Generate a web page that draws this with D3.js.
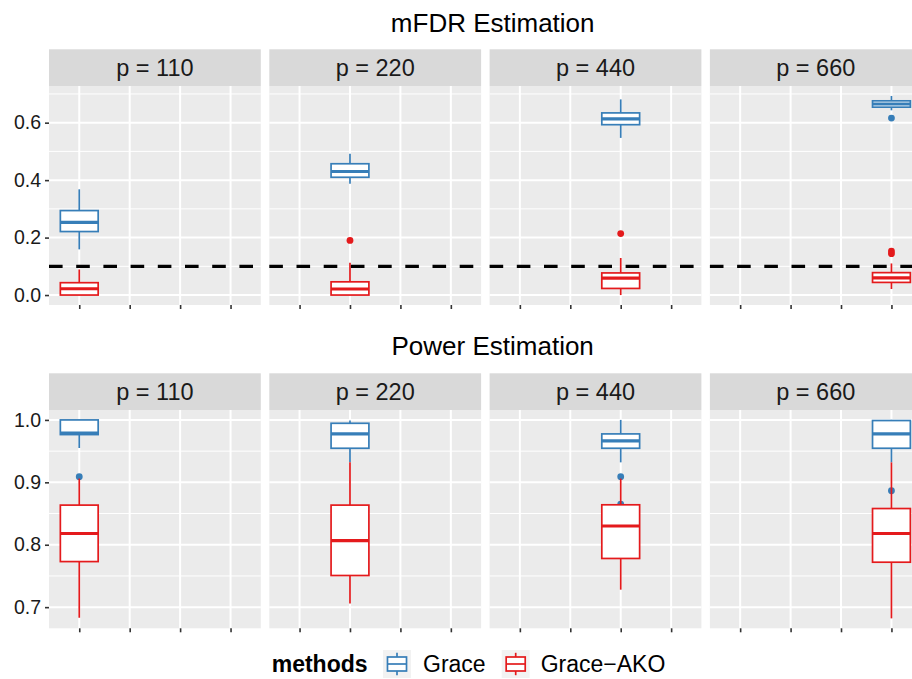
<!DOCTYPE html>
<meta charset="utf-8">
<style>
    body { margin: 0; background: #fff; }
    text { font-family: "Liberation Sans", Arial, Helvetica, sans-serif; }
</style>
<body>
<script src="https://cdn.jsdelivr.net/npm/d3@7"></script>
<script>
    // facets, groups
    var pLevels = ["110", "220", "440", "660"];
    var methods = ["Grace", "Grace\u2212AKO"];
    var colors = ["#377EB8", "#E41A1C"];

    // box stats for each p: [lower whisker, Q1, median, Q3, upper whisker]
    var fdrGrace = [[0.159, 0.221, 0.253, 0.294, 0.368],
                    [0.387, 0.410, 0.430, 0.457, 0.492],
                    [0.547, 0.593, 0.613, 0.634, 0.681],
                    [0.643, 0.654, 0.665, 0.676, 0.693]];
    var fdrAko = [[0.000, 0.000, 0.022, 0.043, 0.089],
                  [0.000, 0.000, 0.021, 0.046, 0.112],
                  [0.000, 0.023, 0.059, 0.077, 0.129],
                  [0.021, 0.044, 0.060, 0.078, 0.110]];
    var fdrGraceOut = [[], [], [], [0.616]];
    var fdrAkoOut = [[], [0.190], [0.214], [0.153, 0.144]];
    var fdrTarget = 0.1;
    var fdrTicks = [0, 0.2, 0.4, 0.6];

    var powGrace = [[0.955, 0.9765, 0.979, 1.000, 1.000],
                    [0.932, 0.9546, 0.9776, 0.9946, 0.999],
                    [0.932, 0.9546, 0.9664, 0.9776, 1.000],
                    [0.932, 0.9546, 0.9776, 0.999, 1.000]];
    var powAko = [[0.683, 0.773, 0.818, 0.8635, 0.906],
                  [0.706, 0.7507, 0.8066, 0.8635, 0.932],
                  [0.728, 0.778, 0.830, 0.864, 0.906],
                  [0.682, 0.772, 0.818, 0.858, 0.932]];
    var powGraceOut = [[0.909], [], [0.909, 0.865], [0.8865]];
    var powAkoOut = [[], [], [], []];
    var powTicks = [0.7, 0.8, 0.9, 1.0];

    var W = 912, H = 679;
    var panelW = 211.8, gap = 8.5, left = 49;
    var stripH = 36.7;

    var rows = [
        { title: "mFDR Estimation", stats: [fdrGrace, fdrAko], out: [fdrGraceOut, fdrAkoOut],
          ticks: fdrTicks, hline: fdrTarget, top: 86, bottom: 305, titleY: 31.7 },
        { title: "Power Estimation", stats: [powGrace, powAko], out: [powGraceOut, powAkoOut],
          ticks: powTicks, hline: null, top: 410, bottom: 628.3, titleY: 355 }
    ];

    var svg = d3.select("body").append("svg")
        .attr("width", W)
        .attr("height", H);

    var x = d3.scalePoint().domain(pLevels).range([0, panelW]).padding(0.6);
    var boxW = x.step() * 0.75;

    rows.forEach(function (row) {
        var vals = [];
        row.stats.forEach(function (s) { s.forEach(function (b) { vals = vals.concat(b); }); });
        row.out.forEach(function (o) { o.forEach(function (b) { vals = vals.concat(b); }); });
        var ext = d3.extent(vals), pad = (ext[1] - ext[0]) * 0.05;
        var y = d3.scaleLinear().domain([ext[0] - pad, ext[1] + pad]).range([row.bottom - row.top, 0]);

        // minor breaks half way between majors
        var step = row.ticks[1] - row.ticks[0];
        var minor = d3.range(-1, row.ticks.length).map(function (i) { return row.ticks[0] + step * (i + 0.5); })
            .filter(function (v) { return v >= y.domain()[0] && v <= y.domain()[1]; });

        // row title
        svg.append("text")
            .attr("x", 492.7)
            .attr("y", row.titleY)
            .attr("text-anchor", "middle")
            .style("font-size", "26px")
            .style("fill", "#000")
            .text(row.title);

        pLevels.forEach(function (p, j) {
            var px = left + j * (panelW + gap);
            var g = svg.append("g").attr("transform", "translate(" + px + "," + row.top + ")");
            var ph = row.bottom - row.top;

            g.append("rect").attr("width", panelW).attr("height", ph).attr("fill", "#EBEBEB");

            g.selectAll(".minor").data(minor).enter().append("line")
                .attr("x1", 0).attr("x2", panelW)
                .attr("y1", y).attr("y2", y)
                .attr("stroke", "#fff").attr("stroke-width", 1);
            g.selectAll(".majory").data(row.ticks).enter().append("line")
                .attr("x1", 0).attr("x2", panelW)
                .attr("y1", y).attr("y2", y)
                .attr("stroke", "#fff").attr("stroke-width", 2);
            g.selectAll(".majorx").data(pLevels).enter().append("line")
                .attr("x1", x).attr("x2", x)
                .attr("y1", 0).attr("y2", ph)
                .attr("stroke", "#fff").attr("stroke-width", 2);

            // boxes, Grace first then Grace-AKO
            row.stats.forEach(function (s, m) {
                var b = s[j], cx = x(p), col = colors[m];
                var bg = g.append("g");
                bg.append("line").attr("x1", cx).attr("x2", cx)
                    .attr("y1", y(b[4])).attr("y2", y(b[3]))
                    .attr("stroke", col).attr("stroke-width", 1.7);
                bg.append("line").attr("x1", cx).attr("x2", cx)
                    .attr("y1", y(b[1])).attr("y2", y(b[0]))
                    .attr("stroke", col).attr("stroke-width", 1.7);
                bg.append("rect")
                    .attr("x", cx - boxW / 2).attr("width", boxW)
                    .attr("y", y(b[3])).attr("height", Math.max(0, y(b[1]) - y(b[3])))
                    .attr("fill", "#fff").attr("stroke", col).attr("stroke-width", 1.7);
                bg.append("line").attr("x1", cx - boxW / 2).attr("x2", cx + boxW / 2)
                    .attr("y1", y(b[2])).attr("y2", y(b[2]))
                    .attr("stroke", col).attr("stroke-width", 3.2);
                bg.selectAll("circle").data(row.out[m][j]).enter().append("circle")
                    .attr("cx", cx).attr("cy", y).attr("r", 3.4)
                    .attr("fill", col);
            });

            if (row.hline !== null) {
                g.append("line")
                    .attr("x1", 0).attr("x2", panelW)
                    .attr("y1", y(row.hline)).attr("y2", y(row.hline))
                    .attr("stroke", "#000").attr("stroke-width", 3.2)
                    .attr("stroke-dasharray", "13.6,13.6");
            }

            // strip
            g.append("rect")
                .attr("y", -stripH).attr("width", panelW).attr("height", stripH)
                .attr("fill", "#D9D9D9");
            g.append("text")
                .attr("x", panelW / 2).attr("y", -stripH / 2 + 8.3)
                .attr("text-anchor", "middle")
                .style("font-size", "23.5px")
                .style("fill", "#1A1A1A")
                .text("p = " + p);

            // x ticks, no labels
            var xa = g.append("g")
                .attr("transform", "translate(0," + ph + ")")
                .call(d3.axisBottom(x).tickSize(4).tickFormat(""));
            xa.select(".domain").remove();
            xa.selectAll("line").attr("stroke", "#333").attr("stroke-width", 1.6);

            if (j === 0) {
                var ya = g.append("g")
                    .call(d3.axisLeft(y).tickValues(row.ticks).tickSize(4).tickPadding(4)
                        .tickFormat(d3.format(".1f")));
                ya.select(".domain").remove();
                ya.selectAll("line").attr("stroke", "#333").attr("stroke-width", 1.6);
                ya.selectAll("text")
                    .style("font-family", "'Liberation Sans', Arial, sans-serif")
                    .style("font-size", "19.5px")
                    .style("fill", "#1A1A1A");
            }
        });
    });

    // legend
    var lg = svg.append("g");
    lg.append("text")
        .attr("x", 271.7).attr("y", 671.7)
        .style("font-size", "23px").style("font-weight", "bold")
        .text("methods");
    var keyX = [383, 501.7], labX = [423, 540.7];
    methods.forEach(function (m, i) {
        var k = lg.append("g").attr("transform", "translate(" + keyX[i] + ",650)");
        var ks = 28;
        k.append("rect").attr("width", ks).attr("height", ks).attr("fill", "#F2F2F2");
        k.append("line").attr("x1", ks / 2).attr("x2", ks / 2).attr("y1", ks * 0.1).attr("y2", ks * 0.9)
            .attr("stroke", colors[i]).attr("stroke-width", 1.7);
        k.append("rect").attr("x", ks * 0.16).attr("width", ks * 0.68)
            .attr("y", ks * 0.25).attr("height", ks * 0.5)
            .attr("fill", "#fff").attr("stroke", colors[i]).attr("stroke-width", 1.7);
        k.append("line").attr("x1", ks * 0.16).attr("x2", ks * 0.84).attr("y1", ks / 2).attr("y2", ks / 2)
            .attr("stroke", colors[i]).attr("stroke-width", 1.7);
        lg.append("text")
            .attr("x", labX[i]).attr("y", 671.7)
            .style("font-size", "23px")
            .text(m);
    });
</script>
</body>
